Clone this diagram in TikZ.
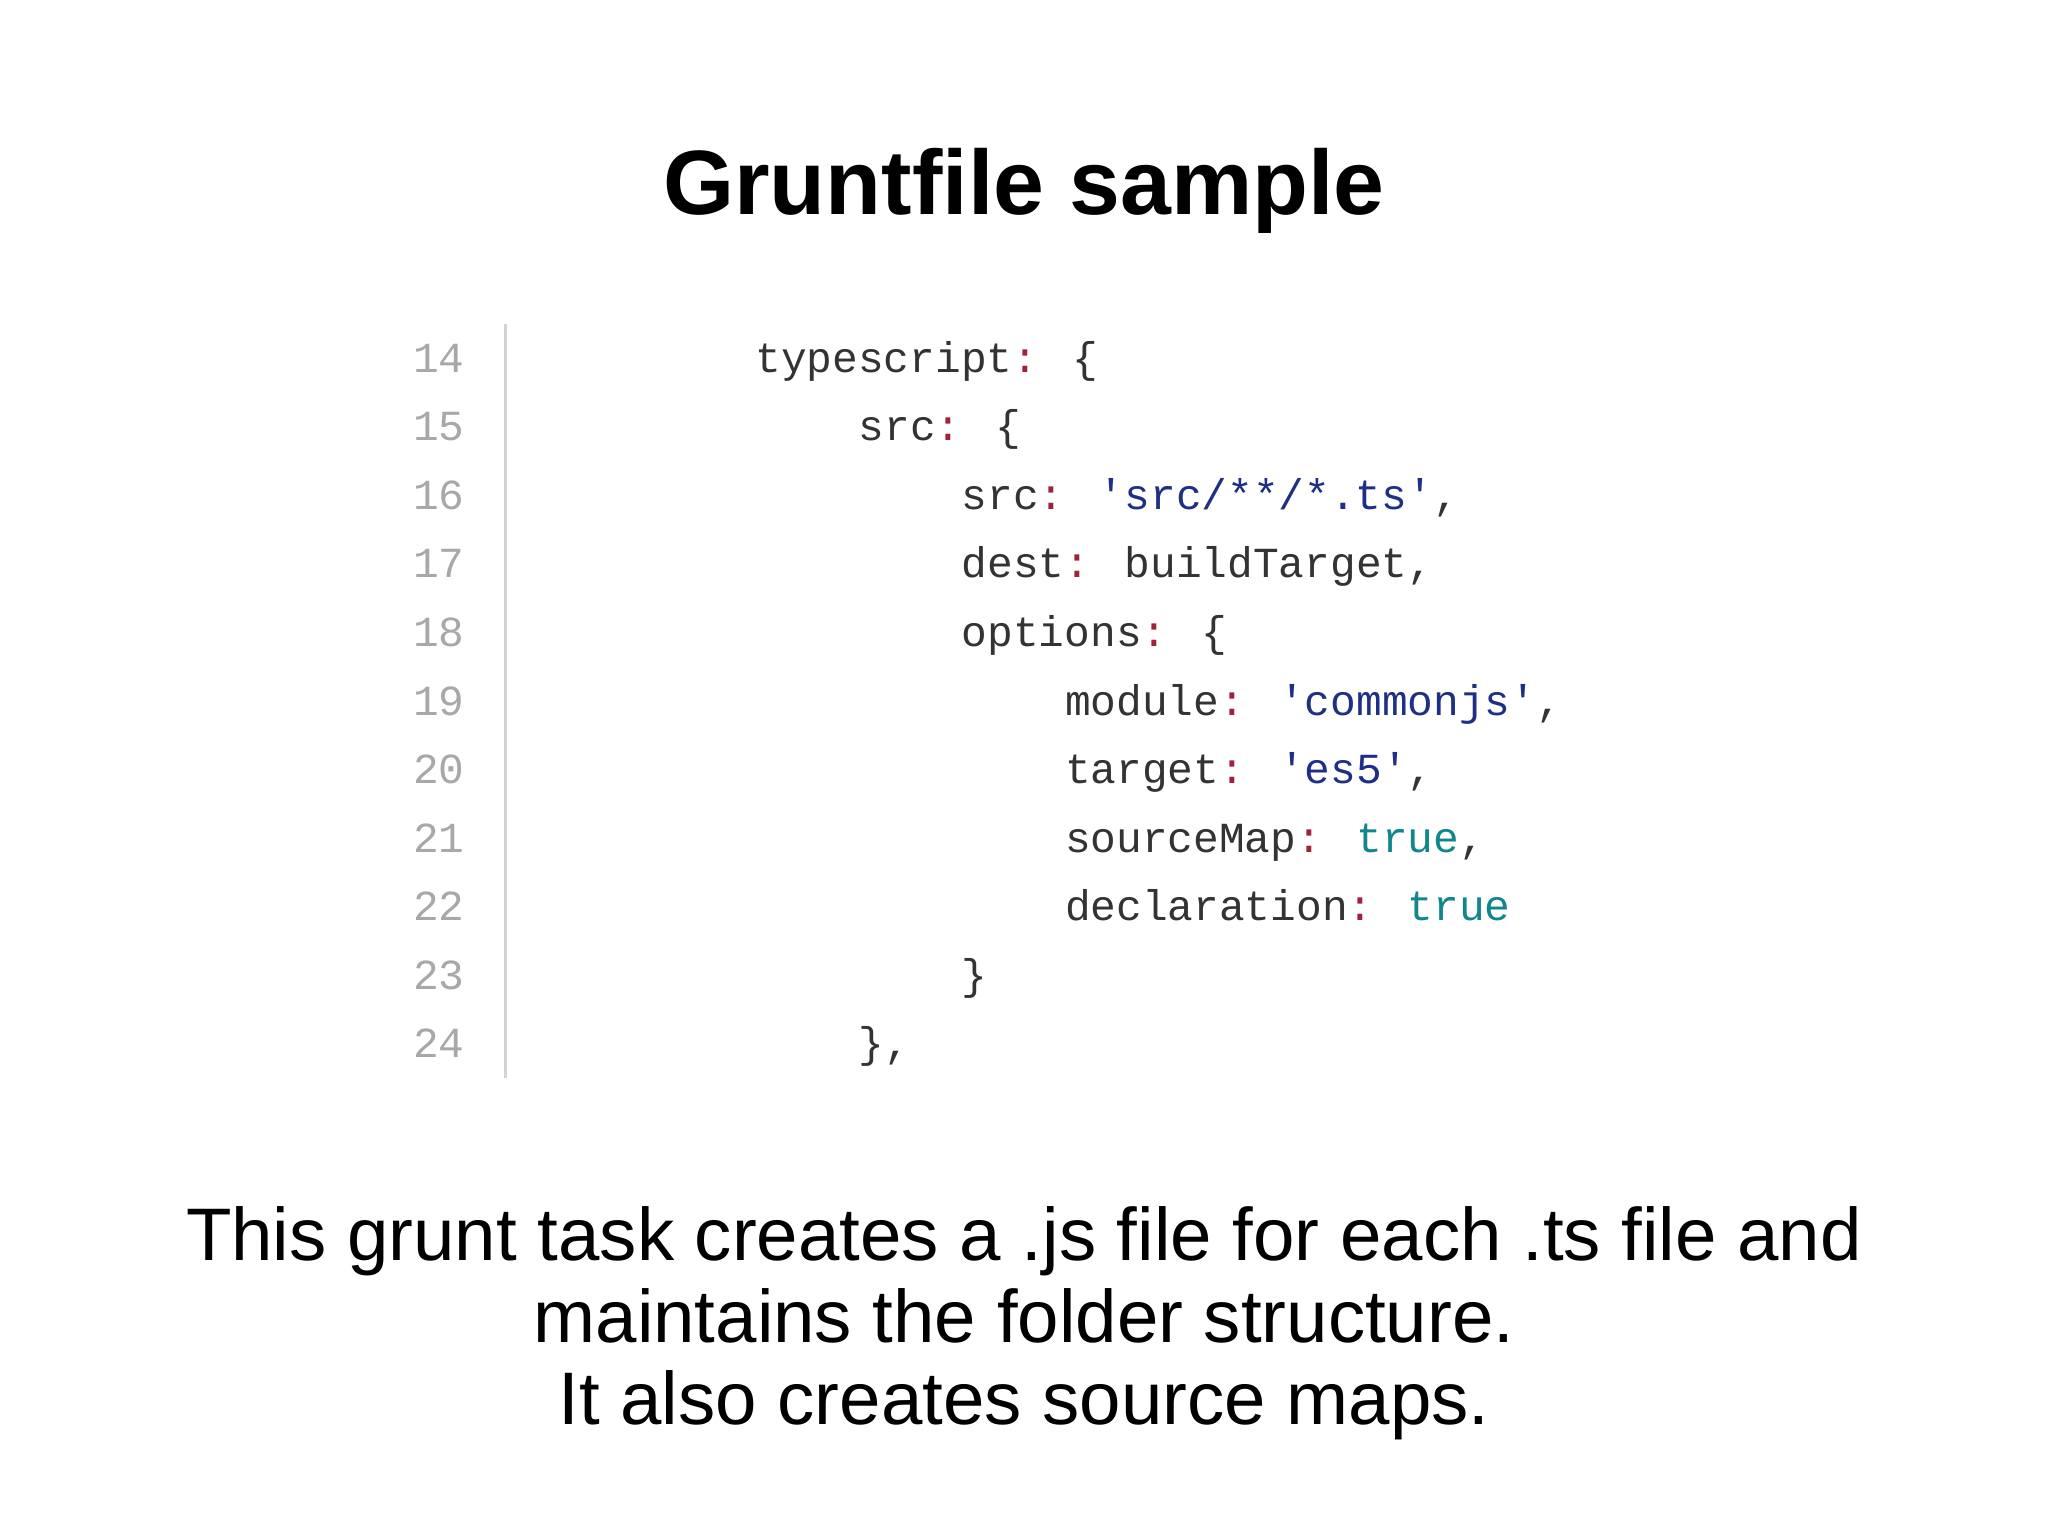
\documentclass[tikz,border=0pt]{standalone}
\usepackage{fontspec}
\setmainfont{Liberation Sans}
\newfontfamily\codefont{Liberation Mono}
\definecolor{keyc}{HTML}{333333}
\definecolor{colc}{HTML}{A0223A}
\definecolor{strc}{HTML}{1F2F86}
\definecolor{truec}{HTML}{11868C}
\definecolor{numc}{HTML}{A8A8A8}
\newcommand{\K}[1]{\textcolor{keyc}{#1}}
\newcommand{\C}{\textcolor{colc}{:}}
\newcommand{\St}[1]{\textcolor{strc}{#1}}
\newcommand{\Tr}{\textcolor{truec}{true}}
\begin{document}
\begin{tikzpicture}[x=0.5pt,y=-0.5pt,
  code/.style={anchor=base west,inner sep=0,font=\codefont\fontsize{16.4}{18}\selectfont,text=keyc},
  num/.style={anchor=base east,inner sep=0,font=\codefont\fontsize{16.4}{18}\selectfont,text=numc}]
\useasboundingbox[fill=white] (0,0) rectangle (1568,1177);
\node[font=\bfseries\fontsize{35}{40}\selectfont] (title) at (784,146) {Gruntfile sample};
\draw[draw=numc!50,line width=1] (387,248) -- (387,825);
\foreach \n [count=\i from 0] in {14,...,24}
  \node[num] (n\n) at (356,285+52.5*\i) {\n};
\node[code] (l14) at (578,285) {typescript\C{} \{};
\node[code] (l15) at (657,337.5) {src\C{} \{};
\node[code] (l16) at (736,390) {src\C{} \St{'src/**/*.ts'},};
\node[code] (l17) at (736,442.5) {dest\C{} buildTarget,};
\node[code] (l18) at (736,495) {options\C{} \{};
\node[code] (l19) at (815,547.5) {module\C{} \St{'commonjs'},};
\node[code] (l20) at (815,600) {target\C{} \St{'es5'},};
\node[code] (l21) at (815,652.5) {sourceMap\C{} \Tr,};
\node[code] (l22) at (815,705) {declaration\C{} \Tr};
\node[code] (l23) at (736,757.5) {\}};
\node[code] (l24) at (657,810) {\},};
\node[align=center,font=\fontsize{28.5}{31.5}\selectfont] (desc) at (784,1013)
 {This grunt task creates a .js file for each .ts file and\\maintains the folder structure.\\It also creates source maps.};
\end{tikzpicture}
\end{document}
